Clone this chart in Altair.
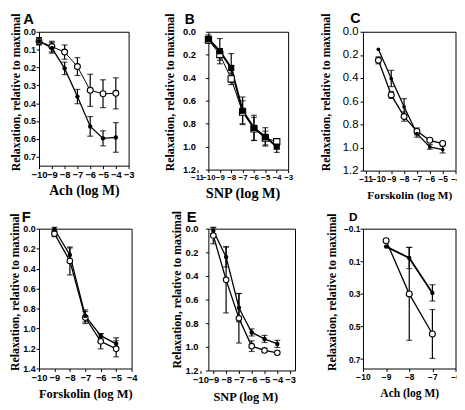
import altair as alt
import pandas as pd

# ---------------- data ----------------
# Panel A : Ach
A_x = [-10, -9, -8, -7, -6, -5, -4]
A_filled = [0.053, 0.090, 0.205, 0.363, 0.530, 0.597, 0.592]
A_filled_err = [0.020, 0.030, 0.035, 0.040, 0.055, 0.042, 0.083]
A_open = [0.053, 0.083, 0.114, 0.195, 0.328, 0.347, 0.345]
A_open_err = [0.020, 0.030, 0.040, 0.050, 0.090, 0.078, 0.087]

# Panel B : SNP
B_x = [-10, -9, -8, -7, -6, -5, -4]
B_filled = [0.063, 0.169, 0.315, 0.688, 0.837, 0.915, 1.000]
B_filled_err = [0.035, 0.110, 0.125, 0.120, 0.110, 0.080, 0.050]
B_open = [0.070, 0.198, 0.410, 0.700, 0.845, 0.925, 0.957]
B_open_err = [0.030, 0.050, 0.050, 0.100, 0.100, 0.060, 0.020]

# Panel C : Forskolin
C_x = [-10, -9, -8, -7, -6, -5]
C_filled = [0.151, 0.404, 0.648, 0.881, 0.995, 1.018]
C_filled_err = [0.0, 0.070, 0.070, 0.030, 0.020, 0.030]
C_open = [0.247, 0.546, 0.733, 0.861, 0.938, 0.966]
C_open_err = [0.030, 0.030, 0.040, 0.030, 0.0, 0.0]

# Panel F : Forskolin
F_x = [-9, -8, -7, -6, -5]
F_filled = [0.006, 0.263, 0.873, 1.071, 1.153]
F_filled_err = [0.020, 0.070, 0.060, 0.020, 0.060]
F_open = [0.050, 0.323, 0.890, 1.128, 1.203]
F_open_err = [0.030, 0.140, 0.060, 0.075, 0.080]

# Panel E : SNP
E_x = [-9, -8, -7, -6, -5, -4]
E_filled = [0.017, 0.239, 0.669, 0.878, 0.933, 0.975]
E_filled_err = [0.025, 0.085, 0.120, 0.030, 0.030, 0.030]
E_open = [0.058, 0.433, 0.758, 0.994, 1.030, 1.050]
E_open_err = [0.070, 0.280, 0.210, 0.045, 0.0, 0.0]

# Panel D : Ach
D_x = [-9, -8, -7]
D_filled = [0.010, 0.080, 0.294]
D_filled_err = [0.0, 0.065, 0.050]
D_open = [-0.026, 0.300, 0.546]
D_open_err = [0.0, 0.285, 0.150]

YTITLE = "Relaxation, relative to maximal"


def frame(xs, means, errs):
    df = pd.DataFrame({"x": xs, "m": means, "e": errs})
    df["lo"] = df["m"] - df["e"]
    df["hi"] = df["m"] + df["e"]
    return df


def panel(letter, xs, fm, fe, om, oe, p):
    dff = frame(xs, fm, fe)
    dfo = frame(xs, om, oe)
    xsc = alt.Scale(domain=p["xdom"], range=p["xrng"], nice=False, zero=False)
    ysc = alt.Scale(domain=p["ydom"], reverse=True, nice=False, zero=False)
    xax = alt.Axis(values=p["xvals"], format="d", title=p["xtitle"],
                   titleFontSize=p["xtfs"], labelFontSize=p["xlfs"],
                   titlePadding=p["xtp"], labelPadding=p["xlp"],
                   labelFontWeight="bold", labelFlush=False, labelOverlap=False)
    yax = alt.Axis(values=p["yvals"], format=p["yfmt"], title=YTITLE,
                   titleFontSize=12, labelFontSize=p["ylfs"], titleY=p["h"] / 2 - p["tyup"],
                   labelFontWeight=p["ylw"], labelFont="Liberation Sans",
                   titlePadding=p["ytp"], labelPadding=p["ylp"],
                   labelFlush=False, labelOverlap=False)
    X = alt.X("x:Q", scale=xsc, axis=xax)
    Y = alt.Y("m:Q", scale=ysc, axis=yax)
    layers = []
    for df, lw in ((dfo, p["olw"]), (dff, p["flw"])):
        layers.append(alt.Chart(df).mark_line(color="black", strokeWidth=lw).encode(X, Y))
    for df in (dfo, dff):
        d = df[df["e"] > 0]
        layers.append(
            alt.Chart(d).mark_errorbar(ticks=True, size=6, thickness=1.2, color="black").encode(
                x=X, y=alt.Y("lo:Q", scale=ysc, axis=yax), y2="hi:Q"))
    shape = p.get("shape", "circle")
    layers.append(alt.Chart(dfo).mark_point(shape=shape, filled=True, fill="white", stroke="black",
                                            strokeWidth=1.1, size=p["osize"], opacity=1).encode(X, Y))
    layers.append(alt.Chart(dff).mark_point(shape=shape, filled=True, color="black",
                                            size=p["fsize"], opacity=1).encode(X, Y))
    # panel letter, just above the frame's top-left corner
    layers.append(alt.Chart(pd.DataFrame({"t": [letter]})).mark_text(
        align="left", baseline="alphabetic", font="Liberation Sans", fontWeight="bold",
        fontSize=p["tfs"], color="black").encode(
        text="t:N", x=alt.value(p["tdx"]), y=alt.value(p["tdy"])))
    return alt.layer(*layers).properties(width=p["w"], height=p["h"])


def gap(w):
    # invisible cell that sets the horizontal gap between two panels of a row
    return alt.Chart(pd.DataFrame({"a": [0]})).mark_point(opacity=0).encode(
        x=alt.X("a:Q", axis=None), y=alt.Y("a:Q", axis=None)
    ).properties(width=w, height=1, view=alt.ViewBackground(stroke="transparent"))


pA = dict(xdom=[-10, -3], xrng=[0, 91], xvals=list(range(-10, -2)), xtitle="Ach (log M)", xtfs=14, xlfs=9.5,
          xtp=5, xlp=1, ydom=[0, 0.75], yvals=[0, .1, .2, .3, .4, .5, .6, .7], yfmt=".1f", ylfs=9, ylw="bold",
          ytp=1, ylp=0.5, olw=1, flw=1.3, osize=36, fsize=20, w=91, h=136, tdx=-16, tdy=-7.5, tfs=15, tyup=7)
pB = dict(xdom=[-11, -3], xrng=[-11.5, 81], xvals=list(range(-11, -2)), xtitle="SNP (log M)", xtfs=14.5, xlfs=8,
          xtp=5, xlp=1, ydom=[0, 1.2], yvals=[0, .2, .4, .6, .8, 1.0, 1.2], yfmt=".1f", ylfs=9.5, ylw="bold",
          ytp=6, ylp=10, olw=1, flw=2, osize=40, fsize=40, w=81, h=140, tdx=-24, tdy=-8, tfs=14, tyup=9,
          shape="square")
pC = dict(xdom=[-11.2, -4], xrng=[0, 94], xvals=list(range(-11, -3)), xtitle="Forskolin (log M)", xtfs=11.5, xlfs=8.5,
          xtp=7, xlp=1, ydom=[0, 1.2], yvals=[0, .2, .4, .6, .8, 1.0, 1.2], yfmt=".1f", ylfs=11.5, ylw="normal",
          ytp=10, ylp=2, olw=1.3, flw=1.3, osize=36, fsize=14, w=94, h=141, tdx=-13, tdy=-8.5, tfs=14.5, tyup=9.5)
pF = dict(xdom=[-10, -4], xrng=[0, 94], xvals=list(range(-10, -3)), xtitle="Forskolin (log M)", xtfs=12.7, xlfs=9.5,
          xtp=6, xlp=1, ydom=[0, 1.4], yvals=[0, .2, .4, .6, .8, 1.0, 1.2, 1.4], yfmt=".1f", ylfs=9, ylw="bold",
          ytp=1, ylp=1, olw=1.3, flw=1.3, osize=32, fsize=20, w=94, h=142, tdx=-17.6, tdy=-7, tfs=15, tyup=7)
pE = dict(xdom=[-10, -3], xrng=[-8, 83], xvals=list(range(-10, -2)), xtitle="SNP (log M)", xtfs=12.6, xlfs=9.5,
          xtp=7, xlp=1, ydom=[0, 1.2], yvals=[0, .2, .4, .6, .8, 1.0, 1.2], yfmt=".1f", ylfs=9.5, ylw="bold",
          ytp=2, ylp=7.5, olw=1.3, flw=1.3, osize=32, fsize=20, w=88, h=144, tdx=-22, tdy=-6.8, tfs=15, tyup=10.5)
pD = dict(xdom=[-10, -6], xrng=[0, 94], xvals=list(range(-10, -5)), xtitle="Ach (log M)", xtfs=11.7, xlfs=8.5,
          xtp=7, xlp=1, ydom=[-0.1, 0.758], yvals=[-0.1, 0.1, 0.3, 0.5, 0.7], yfmt=".1f", ylfs=8.5, ylw="bold",
          ytp=5, ylp=0, olw=1.3, flw=1.8, osize=36, fsize=20, w=94, h=142, tdx=-14.3, tdy=-8, tfs=12, tyup=7)

cA = panel("A", A_x, A_filled, A_filled_err, A_open, A_open_err, pA)
cB = panel("B", B_x, B_filled, B_filled_err, B_open, B_open_err, pB)
cC = panel("C", C_x, C_filled, C_filled_err, C_open, C_open_err, pC)
cF = panel("F", F_x, F_filled, F_filled_err, F_open, F_open_err, pF)
cE = panel("E", E_x, E_filled, E_filled_err, E_open, E_open_err, pE)
cD = panel("D", D_x, D_filled, D_filled_err, D_open, D_open_err, pD)

cells = [cA, gap(77.5), cB, gap(69), cC,
         cF, gap(72.5), cE, gap(64), cD]

chart = alt.concat(
    *cells, columns=5, bounds="flush",
    align=alt.RowColLayoutAlign(row="each", column="none"),
    spacing=alt.RowColnumber(row=59, column=0)
).configure_view(
    stroke="black", strokeWidth=1
).configure_axis(
    domain=False, grid=False, ticks=True, tickSize=3, tickColor="black", tickWidth=1,
    labelFont="Liberation Sans", labelColor="black",
    titleFont="Liberation Serif", titleFontWeight="bold", titleColor="black"
).properties(
    autosize=alt.AutoSizeParams(type="none"),
    padding={"left": 31.5, "top": 21, "right": 424.5, "bottom": 381},
    background="white"
)

chart.save("out.html", embed_options={"renderer": "svg", "actions": False})
